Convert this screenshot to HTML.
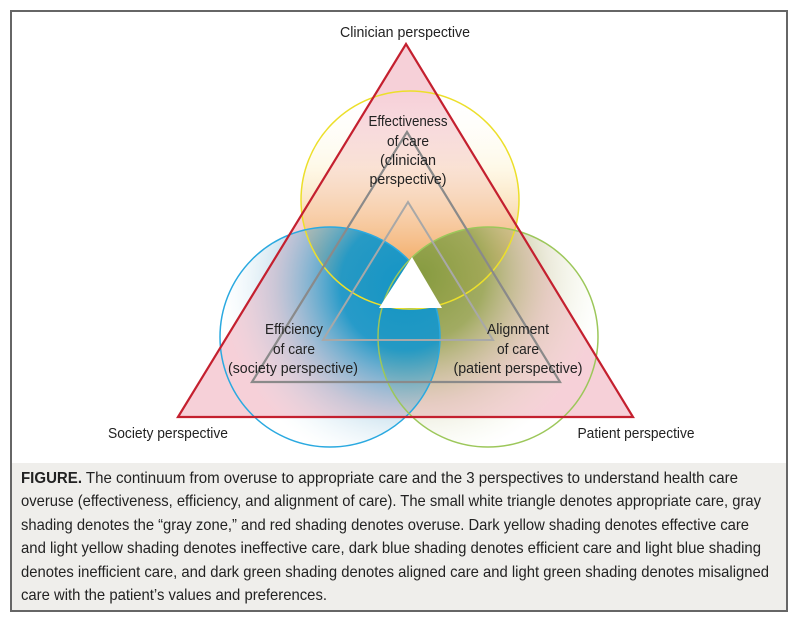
<!DOCTYPE html>
<html><head><meta charset="utf-8"><style>
html,body{margin:0;padding:0;background:#fff;width:800px;height:626px;overflow:hidden}
svg{display:block}
text{font-family:"Liberation Sans Narrow","Liberation Sans",sans-serif;fill:#222}
</style></head><body>
<svg width="800" height="626" viewBox="0 0 800 626">
<defs>
<linearGradient id="gy" x1="0" y1="0" x2="0" y2="1">
<stop offset="0" stop-color="#fff" stop-opacity="0"/>
<stop offset="0.35" stop-color="#fdf3d0" stop-opacity="0.5"/>
<stop offset="0.75" stop-color="#f4b066" stop-opacity="0.85"/>
<stop offset="1" stop-color="#f0a550"/>
</linearGradient>
<radialGradient id="gb" cx="405" cy="285" r="185" gradientUnits="userSpaceOnUse">
<stop offset="0" stop-color="#1495c6"/>
<stop offset="0.35" stop-color="#1c98c8" stop-opacity="0.95"/>
<stop offset="0.7" stop-color="#7ab4d4" stop-opacity="0.35"/>
<stop offset="1" stop-color="#cfeaf6" stop-opacity="0"/>
</radialGradient>
<radialGradient id="gg" cx="420" cy="275" r="185" gradientUnits="userSpaceOnUse">
<stop offset="0" stop-color="#869b40"/>
<stop offset="0.35" stop-color="#98a755" stop-opacity="0.9"/>
<stop offset="0.7" stop-color="#c8c49a" stop-opacity="0.35"/>
<stop offset="1" stop-color="#e4f0c8" stop-opacity="0"/>
</radialGradient>
</defs>
<rect x="11" y="11" width="776" height="600" fill="#fff" stroke="#666" stroke-width="2"/>
<rect x="12" y="463" width="774" height="147" fill="#efeeeb"/>
<polygon points="178,417 406,44 633,417" fill="#f6d0d8"/>
<circle cx="410" cy="200" r="109" fill="url(#gy)"/>
<circle cx="488" cy="337" r="110" fill="url(#gg)"/>
<circle cx="330" cy="337" r="110" fill="url(#gb)"/>
<circle cx="410" cy="200" r="109" fill="none" stroke="#ecdf2a" stroke-width="1.5"/>
<circle cx="330" cy="337" r="110" fill="none" stroke="#2aa9e0" stroke-width="1.5"/>
<circle cx="488" cy="337" r="110" fill="none" stroke="#9cc75a" stroke-width="1.5"/>
<polygon points="178,417 406,44 633,417" fill="none" stroke="#c4202f" stroke-width="2.2"/>
<polygon points="252,382 407,132 560,382" fill="none" stroke="#8a8a8a" stroke-width="2.2"/>
<polygon points="323,340 408,202 493,340" fill="none" stroke="#a8a8a8" stroke-width="2"/>
<polygon points="379,308 412,257 442,308" fill="#fff"/>
<g font-size="14.5" text-anchor="middle" lengthAdjust="spacingAndGlyphs">
<text x="405" y="37" textLength="130" lengthAdjust="spacingAndGlyphs">Clinician perspective</text>
<text x="168" y="438" textLength="120" lengthAdjust="spacingAndGlyphs">Society perspective</text>
<text x="636" y="438" textLength="117" lengthAdjust="spacingAndGlyphs">Patient perspective</text>
<text x="408" y="126" textLength="79" lengthAdjust="spacingAndGlyphs">Effectiveness</text>
<text x="408" y="146" textLength="42" lengthAdjust="spacingAndGlyphs">of care</text>
<text x="408" y="165" textLength="56" lengthAdjust="spacingAndGlyphs">(clinician</text>
<text x="408" y="184" textLength="77" lengthAdjust="spacingAndGlyphs">perspective)</text>
<text x="294" y="334" textLength="58" lengthAdjust="spacingAndGlyphs">Efficiency</text>
<text x="294" y="354" textLength="42" lengthAdjust="spacingAndGlyphs">of care</text>
<text x="293" y="373" textLength="130" lengthAdjust="spacingAndGlyphs">(society perspective)</text>
<text x="518" y="334" textLength="62" lengthAdjust="spacingAndGlyphs">Alignment</text>
<text x="518" y="354" textLength="42" lengthAdjust="spacingAndGlyphs">of care</text>
<text x="518" y="373" textLength="129" lengthAdjust="spacingAndGlyphs">(patient perspective)</text>
</g>
<g font-size="16">
<text x="21" y="483" textLength="717" lengthAdjust="spacingAndGlyphs"><tspan font-weight="bold">FIGURE.</tspan> The continuum from overuse to appropriate care and the 3 perspectives to understand health care</text>
<text x="21" y="506" textLength="740" lengthAdjust="spacingAndGlyphs">overuse (effectiveness, efficiency, and alignment of care). The small white triangle denotes appropriate care, gray</text>
<text x="21" y="530" textLength="728" lengthAdjust="spacingAndGlyphs">shading denotes the “gray zone,” and red shading denotes overuse. Dark yellow shading denotes effective care</text>
<text x="21" y="553" textLength="740" lengthAdjust="spacingAndGlyphs">and light yellow shading denotes ineffective care, dark blue shading denotes efficient care and light blue shading</text>
<text x="21" y="577" textLength="748" lengthAdjust="spacingAndGlyphs">denotes inefficient care, and dark green shading denotes aligned care and light green shading denotes misaligned</text>
<text x="21" y="600" textLength="306" lengthAdjust="spacingAndGlyphs">care with the patient’s values and preferences.</text>
</g>
</svg>
</body></html>
